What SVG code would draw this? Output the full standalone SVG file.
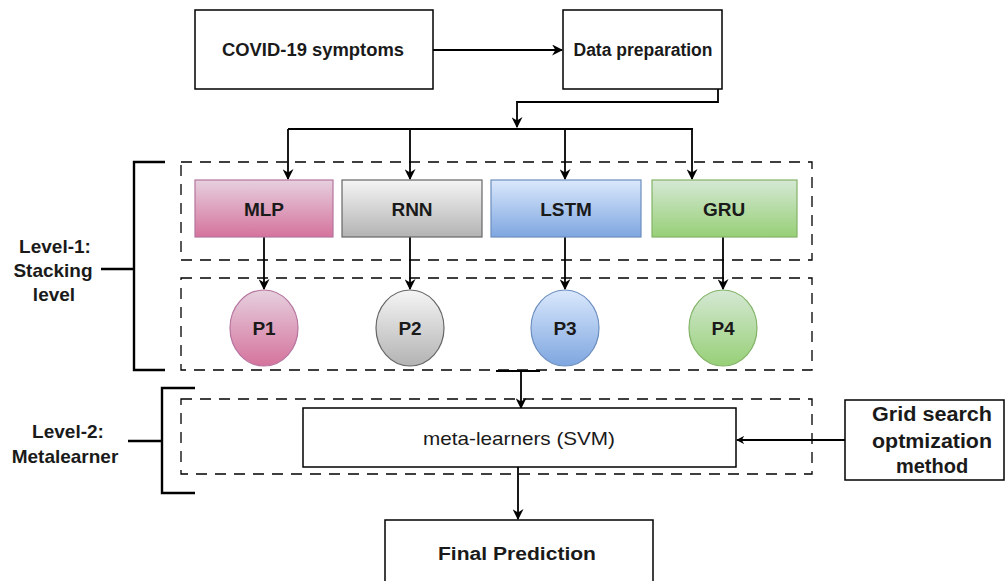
<svg xmlns="http://www.w3.org/2000/svg" width="1008" height="581" viewBox="0 0 1008 581">
<style>
.box{fill:#fff;stroke:#000;stroke-width:1.5}
.dash{fill:none;stroke:#000;stroke-width:1.3;stroke-dasharray:11 8}
.ln{fill:none;stroke:#000;stroke-width:1.8}
.br{fill:none;stroke:#000;stroke-width:2.4}
text{font-family:"Liberation Sans",Arial,sans-serif;fill:#1a1a1a;text-anchor:middle;dominant-baseline:central}
.b{font-weight:bold;font-size:18px}
.m{font-weight:bold;font-size:19px}
.lv{font-weight:bold;font-size:19px}
.n{font-size:19px}
.g{font-weight:bold;font-size:20px}
</style>
<defs>
<marker id="ah" viewBox="0 0 10 10" refX="9" refY="5" markerWidth="11" markerHeight="11" markerUnits="userSpaceOnUse" orient="auto">
<path d="M0,0 L10,5 L0,10 L3,5 z" fill="#000"/>
</marker>
<marker id="ahs" viewBox="0 0 10 10" refX="9" refY="5" markerWidth="8" markerHeight="8" markerUnits="userSpaceOnUse" orient="auto">
<path d="M0,0 L10,5 L0,10 L3,5 z" fill="#000"/>
</marker>
<linearGradient id="gp" x1="0" y1="0" x2="0" y2="1"><stop offset="0" stop-color="#e6d0de"/><stop offset="1" stop-color="#d5739d"/></linearGradient>
<linearGradient id="gg" x1="0" y1="0" x2="0" y2="1"><stop offset="0" stop-color="#f5f5f5"/><stop offset="1" stop-color="#b3b3b3"/></linearGradient>
<linearGradient id="gb" x1="0" y1="0" x2="0" y2="1"><stop offset="0" stop-color="#dae8fc"/><stop offset="1" stop-color="#7ea6e0"/></linearGradient>
<linearGradient id="gn" x1="0" y1="0" x2="0" y2="1"><stop offset="0" stop-color="#d5e8d4"/><stop offset="1" stop-color="#97d077"/></linearGradient>
</defs>

<g id="containers">
<rect class="dash" x="181" y="162" width="631" height="98"/>
<rect class="dash" x="181" y="278" width="631" height="92"/>
<rect class="dash" x="181" y="399" width="631" height="75"/>
</g>

<g id="connectors">
<line class="ln" x1="433" y1="50" x2="562" y2="50" marker-end="url(#ah)"/>
<polyline class="ln" points="718,89 718,102 517,102 517,127" marker-end="url(#ah)"/>
<line class="ln" x1="288" y1="129" x2="693" y2="129"/>
<line class="ln" x1="288" y1="129" x2="288" y2="179" marker-end="url(#ah)"/>
<line class="ln" x1="410" y1="129" x2="410" y2="179" marker-end="url(#ah)"/>
<line class="ln" x1="565" y1="129" x2="565" y2="179" marker-end="url(#ah)"/>
<line class="ln" x1="692" y1="129" x2="692" y2="179" marker-end="url(#ah)"/>
<line class="ln" x1="264" y1="237" x2="264" y2="289" marker-end="url(#ah)"/>
<line class="ln" x1="410" y1="237" x2="410" y2="289" marker-end="url(#ah)"/>
<line class="ln" x1="565" y1="237" x2="565" y2="289" marker-end="url(#ah)"/>
<line class="ln" x1="723" y1="237" x2="723" y2="289" marker-end="url(#ah)"/>
<line class="ln" x1="496" y1="371" x2="540" y2="371"/>
<line class="ln" x1="521" y1="371" x2="521" y2="408" marker-end="url(#ah)"/>
<line class="ln" x1="845" y1="440" x2="737" y2="440" marker-end="url(#ahs)"/>
<line class="ln" x1="518" y1="467" x2="518" y2="519" marker-end="url(#ah)"/>
</g>

<g id="brackets">
<polyline class="br" points="165,162 134,162 134,370 165,370"/>
<line class="br" x1="101" y1="269" x2="134" y2="269"/>
<polyline class="br" points="195,388 162,388 162,493 195,493"/>
<line class="br" x1="128" y1="441" x2="162" y2="441"/>
</g>

<g id="level1-label">
<text class="lv" x="55" y="246">Level-1:</text>
<text class="lv" x="53" y="270">Stacking</text>
<text class="lv" x="54" y="294">level</text>
</g>
<g id="level2-label">
<text class="lv" x="68" y="431">Level-2:</text>
<text class="lv" x="65" y="456">Metalearner</text>
</g>

<g id="covid">
<rect class="box" x="195" y="10" width="238" height="79"/>
<text class="b" x="313" y="50" textLength="182" lengthAdjust="spacingAndGlyphs">COVID-19 symptoms</text>
</g>
<g id="dataprep">
<rect class="box" x="563" y="10" width="159" height="79"/>
<text class="b" x="643" y="50" textLength="139" lengthAdjust="spacingAndGlyphs">Data preparation</text>
</g>

<g id="mlp">
<rect x="195" y="180" width="138" height="57" fill="url(#gp)" stroke="#b5739d" stroke-width="1.2"/>
<text class="m" x="264" y="209">MLP</text>
</g>
<g id="rnn">
<rect x="342" y="180" width="140" height="57" fill="url(#gg)" stroke="#666" stroke-width="1.2"/>
<text class="m" x="412" y="209">RNN</text>
</g>
<g id="lstm">
<rect x="491" y="180" width="150" height="57" fill="url(#gb)" stroke="#6c8ebf" stroke-width="1.2"/>
<text class="m" x="566" y="209">LSTM</text>
</g>
<g id="gru">
<rect x="652" y="180" width="145" height="57" fill="url(#gn)" stroke="#82b366" stroke-width="1.2"/>
<text class="m" x="724" y="209">GRU</text>
</g>

<g id="p1">
<ellipse cx="264" cy="328" rx="34" ry="38" fill="url(#gp)" stroke="#b5739d" stroke-width="1.2"/>
<text class="m" x="264" y="328">P1</text>
</g>
<g id="p2">
<ellipse cx="410" cy="328" rx="34" ry="38" fill="url(#gg)" stroke="#666" stroke-width="1.2"/>
<text class="m" x="410" y="328">P2</text>
</g>
<g id="p3">
<ellipse cx="565" cy="328" rx="34" ry="38" fill="url(#gb)" stroke="#6c8ebf" stroke-width="1.2"/>
<text class="m" x="565" y="328">P3</text>
</g>
<g id="p4">
<ellipse cx="723" cy="328" rx="34" ry="38" fill="url(#gn)" stroke="#82b366" stroke-width="1.2"/>
<text class="m" x="723" y="328">P4</text>
</g>

<g id="meta">
<rect class="box" x="303" y="408" width="433" height="59"/>
<text class="n" x="519" y="438" textLength="192" lengthAdjust="spacingAndGlyphs">meta-learners (SVM)</text>
</g>
<g id="grid">
<rect class="box" x="845" y="400" width="159" height="80"/>
<text class="g" x="932" y="414" textLength="120" lengthAdjust="spacingAndGlyphs">Grid search</text>
<text class="g" x="932" y="441" textLength="120" lengthAdjust="spacingAndGlyphs">optmization</text>
<text class="g" x="932" y="466">method</text>
</g>
<g id="final">
<rect class="box" x="385" y="520" width="268" height="70"/>
<text class="b" x="517" y="554" textLength="158" lengthAdjust="spacingAndGlyphs">Final Prediction</text>
</g>
</svg>
